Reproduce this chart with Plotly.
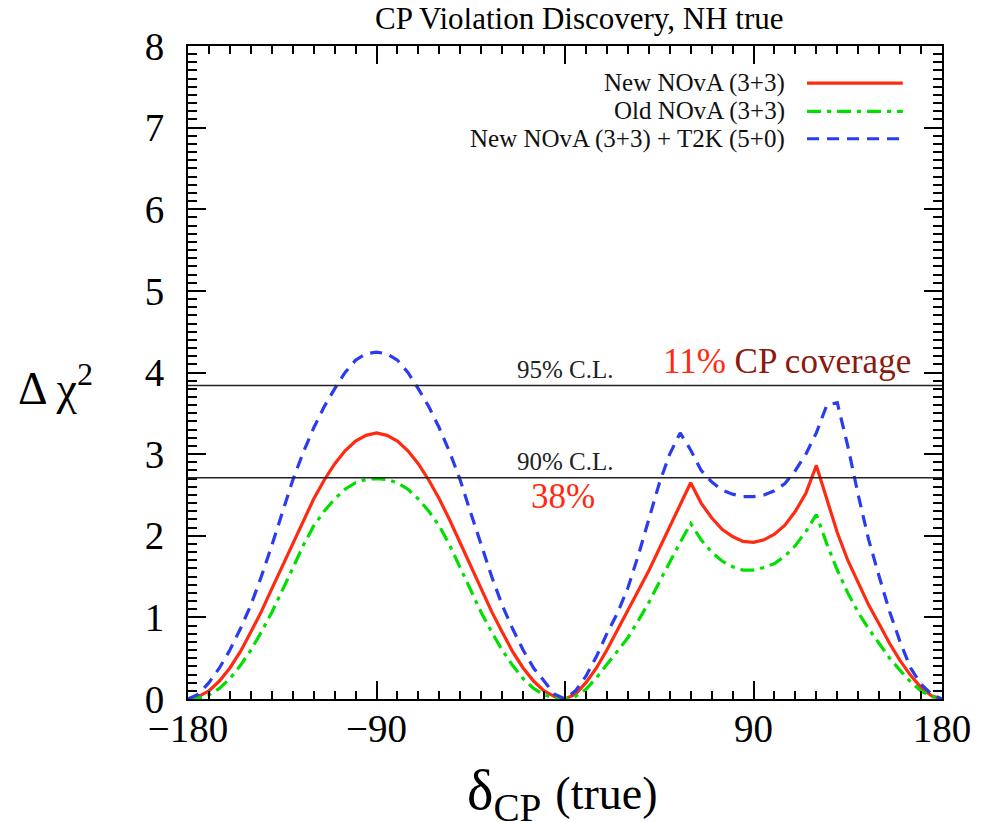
import plotly.graph_objects as go

# delta_CP (true) in degrees, 5 degree steps
delta_cp = list(range(-180, 181, 5))

new_nova = [
    0, 0.03, 0.10, 0.22, 0.38, 0.58, 0.82, 1.07, 1.35, 1.63, 1.91, 2.19, 2.45,
    2.68, 2.88, 3.04, 3.16, 3.23, 3.26, 3.23, 3.16, 3.04, 2.88, 2.68, 2.45,
    2.19, 1.91, 1.63, 1.35, 1.07, 0.82, 0.58, 0.38, 0.22, 0.10, 0.03, 0,
    0.06, 0.20, 0.38, 0.60, 0.84, 1.08, 1.32, 1.57, 1.84, 2.10, 2.38, 2.65,
    2.40, 2.22, 2.08, 1.99, 1.93, 1.92, 1.95, 2.02, 2.13, 2.30, 2.52, 2.86,
    2.45, 2.04, 1.70, 1.42, 1.15, 0.92, 0.68, 0.47, 0.29, 0.14, 0.04, 0,
]
old_nova = [
    0, 0.01, 0.05, 0.13, 0.25, 0.41, 0.60, 0.82, 1.06, 1.32, 1.60, 1.88, 2.12,
    2.30, 2.45, 2.57, 2.65, 2.69, 2.70, 2.69, 2.65, 2.57, 2.45, 2.30, 2.12,
    1.88, 1.60, 1.32, 1.06, 0.82, 0.60, 0.41, 0.25, 0.13, 0.05, 0.01, 0,
    0.03, 0.12, 0.26, 0.42, 0.58, 0.75, 0.96, 1.18, 1.43, 1.68, 1.92, 2.15,
    1.95, 1.80, 1.69, 1.62, 1.58, 1.58, 1.61, 1.66, 1.75, 1.88, 2.05, 2.26,
    1.90, 1.58, 1.30, 1.06, 0.86, 0.68, 0.50, 0.35, 0.21, 0.10, 0.03, 0,
]
nova_t2k = [
    0, 0.06, 0.20, 0.38, 0.60, 0.86, 1.15, 1.50, 1.88, 2.28, 2.68, 3.02, 3.32,
    3.58, 3.80, 4.00, 4.15, 4.23, 4.25, 4.23, 4.15, 4.00, 3.80, 3.58, 3.32,
    3.02, 2.68, 2.28, 1.88, 1.50, 1.15, 0.86, 0.60, 0.38, 0.22, 0.06, 0,
    0.10, 0.28, 0.52, 0.80, 1.05, 1.36, 1.76, 2.20, 2.64, 3.00, 3.26, 3.05,
    2.80, 2.66, 2.56, 2.51, 2.48, 2.48, 2.50, 2.55, 2.64, 2.80, 3.00, 3.26,
    3.60, 3.63, 3.10, 2.50, 1.95, 1.50, 1.07, 0.70, 0.38, 0.18, 0.06, 0,
]

series_names = ["New NOvA (3+3)", "Old NOvA (3+3)", "New NOvA (3+3) + T2K (5+0)"]
cl_levels = [2.71, 3.84]
cl_labels = ["90% C.L.", "95% C.L."]
x_ticks = [-180, -90, 0, 90, 180]

SERIF = "Liberation Serif, Times New Roman, serif"
RED = "#ff2a10"
GREEN = "#00e000"
BLUE = "#2a3cf0"
styles = [
    dict(color=RED, width=3.2),
    dict(color=GREEN, width=3.2, dash="14px,6px,4px,6px"),
    dict(color=BLUE, width=3.2, dash="12px,8px"),
]

fig = go.Figure()

# ----------------------------
# curves
# ----------------------------
for name, ys, st in zip(series_names, [new_nova, old_nova, nova_t2k], styles):
    fig.add_trace(go.Scatter(x=delta_cp, y=ys, mode="lines", name=name,
                             line=st, showlegend=False))

# confidence level lines + labels
for lvl, lab in zip(cl_levels, cl_labels):
    fig.add_shape(type="line", xref="paper", yref="y", x0=0, x1=1, y0=lvl, y1=lvl,
                  line=dict(color="#222222", width=1.6))
    fig.add_annotation(x=0, y=lvl, xref="x", yref="y", text=lab, showarrow=False,
                       yanchor="bottom", yshift=1,
                       font=dict(family=SERIF, size=25, color="#222222"))

fig.add_annotation(x=106, y=4.14, xref="x", yref="y",
                   text="<span style='color:#ff2a10'>11%</span> CP coverage",
                   showarrow=False, yanchor="middle",
                   font=dict(family=SERIF, size=35, color="#8b1a0e"))
fig.add_annotation(x=-1, y=2.48, xref="x", yref="y", text="38%", showarrow=False,
                   font=dict(family=SERIF, size=35, color=RED))

# ----------------------------
# hand-made legend (text left, line sample right)
# ----------------------------
legend_rows = [0.943, 0.900, 0.858]
for name, st, ly in zip(series_names, styles, legend_rows):
    fig.add_annotation(x=0.795, y=ly, xref="paper", yref="paper", text=name,
                       showarrow=False, xanchor="right", yanchor="middle",
                       font=dict(family=SERIF, size=25, color="#111111"))
    fig.add_shape(type="line", xref="paper", yref="paper", x0=0.821, x1=0.948,
                  y0=ly, y1=ly, line=st)

# axis titles as annotations
fig.add_annotation(x=-0.176, y=3.85, xref="paper", yref="y", xanchor="center",
                   text="Δ χ<sup>2</sup>", showarrow=False,
                   font=dict(family=SERIF, size=46, color="black"))
fig.add_annotation(x=0.496, y=-0.146, xref="paper", yref="paper", xanchor="center",
                   text="δ<sub>CP</sub> <span style='font-size:46px'>(true)</span>",
                   showarrow=False, yanchor="middle",
                   font=dict(family=SERIF, size=56, color="black"))

# ----------------------------
# layout (page body has an 8px margin, so the margins are shifted by it)
# ----------------------------
axis_common = dict(
    showline=True, linecolor="black", linewidth=2, mirror="ticks",
    ticks="inside", tickcolor="black", tickwidth=1.5, ticklen=18,
    showgrid=False, zeroline=False,
    tickfont=dict(family=SERIF, size=39, color="black"),
)
fig.update_layout(
    width=997, height=822,
    margin=dict(l=180, r=63, t=38, b=131),
    paper_bgcolor="white", plot_bgcolor="white",
    title=dict(text="CP Violation Discovery, NH true", x=0.573, xanchor="center",
               y=0.988, yanchor="middle",
               font=dict(family=SERIF, size=31, color="black")),
    xaxis=dict(range=[-180, 180], tickvals=x_ticks, ticklabelstandoff=-6,
               minor=dict(dtick=10, ticks="inside", ticklen=8,
                          tickcolor="black", tickwidth=1.5),
               **axis_common),
    yaxis=dict(range=[0, 8], dtick=1, ticklabelstandoff=14,
               minor=dict(dtick=0.1, ticks="inside", ticklen=9,
                          tickcolor="black", tickwidth=1.5),
               **axis_common),
)

fig.write_html("out.html")
